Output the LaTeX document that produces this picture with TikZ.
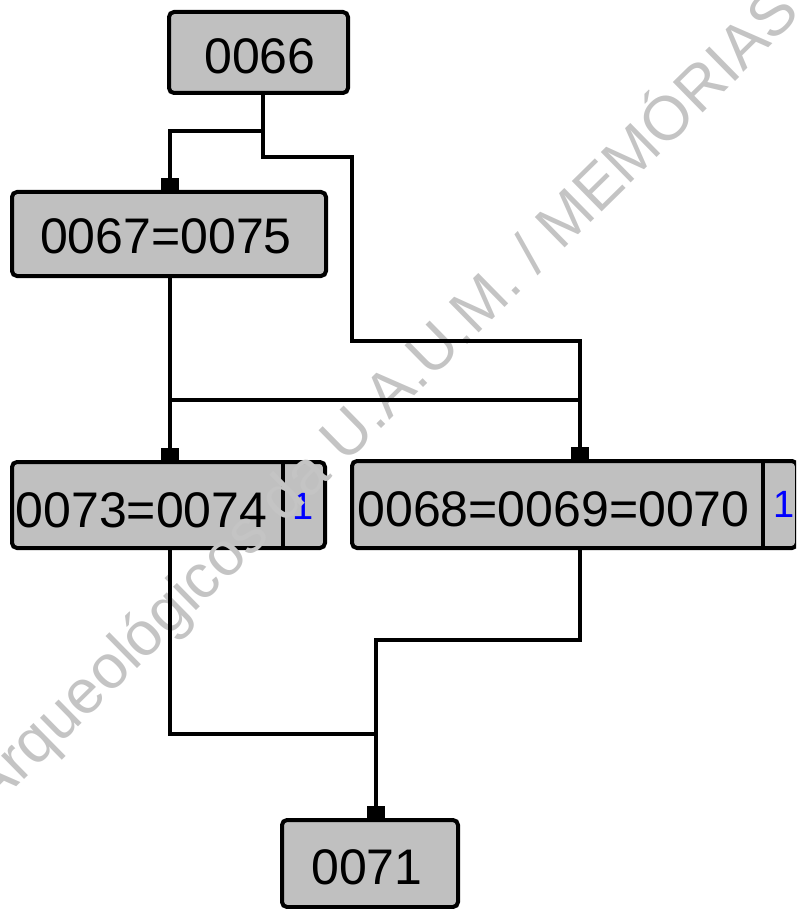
\documentclass[tikz,border=0pt]{standalone}
\usepackage{fontspec}
\setmainfont{Liberation Sans}
\usetikzlibrary{arrows.meta}
\definecolor{boxgray}{RGB}{192,192,192}
\definecolor{wmgray}{RGB}{196,196,196}
\definecolor{numblue}{RGB}{0,0,255}
\begin{document}
\begin{tikzpicture}[x=1pt,y=-1pt,
  box/.style={draw=black, line width=4pt, fill=boxgray, rounded corners=5pt, inner sep=0pt, outer sep=2pt},
  lbl/.style={font=\fontsize{50}{50}\selectfont, inner sep=0pt},
  num/.style={font=\fontsize{38}{38}\selectfont, text=numblue, inner sep=0pt},
  divider/.style={draw=black, line width=4pt},
  conn/.style={draw=black, line width=4.5pt, line cap=rect},
  sq/.style={-{Square[length=12pt,width=18pt]}},
  wm/.style={text=wmgray, font=\fontsize{62}{62}\selectfont, inner sep=0pt}]
\useasboundingbox (0,0) rectangle (796,909);
\clip (0,0) rectangle (796,909);
% boxes
\node[box, minimum width=179pt, minimum height=81pt] (n66) at (258.5,52.5) {};
\node[box, minimum width=314pt, minimum height=84pt] (n67) at (169,234) {};
\node[box, minimum width=313pt, minimum height=86pt] (n73) at (168.5,505) {};
\node[box, minimum width=445pt, minimum height=87pt] (n68) at (574.5,504.5) {};
\node[box, minimum width=176pt, minimum height=87pt] (n71) at (370,863.5) {};
% dividers
\coordinate (d1) at (283,0);
\coordinate (d2) at (763,0);
\draw[divider] (n73.north -| d1) -- (n73.south -| d1);
\draw[divider] (n68.north -| d2) -- (n68.south -| d2);
% labels
\node[lbl] (t66) at (260,56) {0066};
\node[lbl] (t67) at (166,236) {0067=0075};
\node[lbl] (t73) at (141.5,510) {0073=0074};
\node[lbl] (t68) at (553.5,509) {0068=0069=0070};
\node[lbl] (t71) at (367,867) {0071};
\node[num] (c73) at (303,506) {1};
\node[num] (c68) at (784,504.5) {1};
% watermark
\node[wm, anchor=base west, rotate=44.5] (wmark) at (-8.6,812) {Arqueológicos da U.A.U.M. / MEMÓRIAS};
% connectors
\coordinate (j1) at (263,131);
\coordinate (j2) at (263,157);
\coordinate (j3) at (352,157);
\coordinate (j4) at (352,341);
\coordinate (j5) at (580,341);
\coordinate (h1) at (170,400);
\coordinate (h2) at (580,400);
\coordinate (j6) at (376,734);
\coordinate (j7) at (580,640);
\coordinate (j8) at (376,640);
\draw[conn] ([xshift=4.5pt]n66.south) -- (j1) -- (j2) -- (j3) -- (j4) -- (j5);
\draw[conn, sq] (j5) -- (j5 |- n68.north);
\draw[conn, sq] (j1) -| ([xshift=1pt]n67.north);
\draw[conn, sq] ([xshift=1pt]n67.south) -- ([xshift=1.5pt]n73.north);
\draw[conn] (h1) -- (h2);
\draw[conn] ([xshift=1.5pt]n73.south) |- (j6);
\draw[conn] ([xshift=5.5pt]n68.south) -- (j7) -- (j8);
\draw[conn, sq] (j8) -- ([xshift=6pt]n71.north);
\end{tikzpicture}
\end{document}
